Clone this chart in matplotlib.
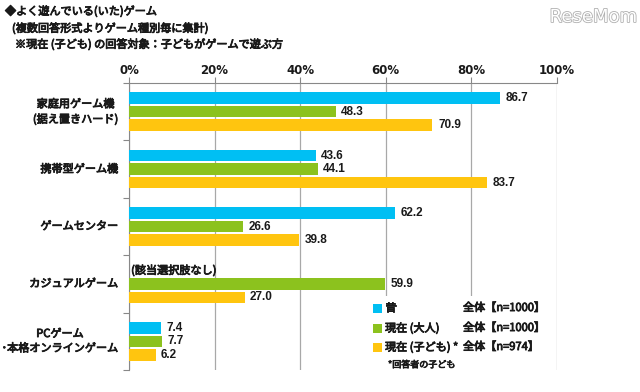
import matplotlib
matplotlib.use("Agg")
import matplotlib.pyplot as plt
import matplotlib.patheffects as pe
from matplotlib.patches import Rectangle

plt.rcParams['font.family'] = ['Noto Sans CJK JP', 'DejaVu Sans']

# data
categories = ['家庭用ゲーム機\n(据え置きハード)', '携帯型ゲーム機', 'ゲームセンター',
              'カジュアルゲーム', 'PCゲーム\n･本格オンラインゲーム']
past = [86.7, 43.6, 62.2, None, 7.4]     # 昔
adult = [48.3, 44.1, 26.6, 59.9, 7.7]    # 現在（大人）
child = [70.9, 83.7, 39.8, 27.0, 6.2]    # 現在（子ども）
xticks = [0, 20, 40, 60, 80, 100]

series_names = ['昔', '現在 (大人)', '現在 (子ども) *']
series_n = ['全体【n=1000】', '全体【n=1000】', '全体【n=974】']
colors = ['#00BFF3', '#8CC21E', '#FFC50F']

TXT = '#1A1A1A'
# the CJK font here has no heavy weight, so thicken glyphs with a stroke
heavy = [pe.withStroke(linewidth=0.6, foreground=TXT)]

fig = plt.figure(figsize=(6.4, 3.92), dpi=100)
ax = fig.add_axes([129 / 640, 1 - 370 / 392, 428 / 640, 287 / 392])

offsets = [-0.235, 0.0, 0.235]
bh = 0.2
for s, (vals, col) in enumerate(zip([past, adult, child], colors)):
    for i, v in enumerate(vals):
        y = i + 0.5 + offsets[s]
        if v is None:
            continue
        ax.barh(y, v, height=bh, color=col, zorder=3)
        ax.annotate(f'{v:.1f}', (v, y), xytext=(4, 0), textcoords='offset points',
                    va='center', ha='left', fontsize=8.5, fontweight='bold',
                    family='Liberation Sans', color=TXT)

# カジュアルゲームには「昔」の選択肢なし
ax.text(0.5, 3 + 0.5 + offsets[0], '(該当選択肢なし)', va='center', ha='left',
        fontsize=8, color=TXT, path_effects=heavy)

ax.set_xlim(0, 100)
ax.set_ylim(len(categories), 0)
ax.xaxis.tick_top()
ax.set_xticks(xticks)
ax.set_xticklabels([f'{t}%' for t in xticks], fontsize=8.5, fontweight='bold',
                   family='DejaVu Sans', color=TXT)
ax.tick_params(axis='x', direction='out', length=4, color='#888888', pad=0.5)
ax.set_yticks(range(len(categories) + 1))
ax.set_yticklabels([])
ax.tick_params(axis='y', direction='out', length=4, color='#888888')
for i, c in enumerate(categories):
    ax.text(-0.025, i + 0.5, c, transform=ax.get_yaxis_transform(), ha='right',
            va='center', multialignment='center', fontsize=8, color=TXT,
            linespacing=1.45, path_effects=heavy)

ax.grid(axis='x', color='#A8A8A8', linewidth=0.9, zorder=0)
for side in ['right', 'bottom']:
    ax.spines[side].set_visible(False)
ax.spines['left'].set_color('#888888')
ax.spines['top'].set_color('#888888')

# legend block (white box over the grid)
fig.patches.append(Rectangle((362 / 640, 1 - 380 / 392), 190 / 640, 84 / 392,
                             transform=fig.transFigure, facecolor='white',
                             edgecolor='none', zorder=2))
leg_y = [308, 328, 347]
for name, n, col, yy in zip(series_names, series_n, colors, leg_y):
    fy = 1 - yy / 392
    fig.patches.append(Rectangle((373 / 640, fy - 4.5 / 392), 9 / 640, 9 / 392,
                                 transform=fig.transFigure, facecolor=col,
                                 edgecolor='none', zorder=3))
    fig.text(385 / 640, fy, name, ha='left', va='center', fontsize=8,
             color=TXT, zorder=4, path_effects=heavy)
    fig.text(463 / 640, fy, n, ha='left', va='center', fontsize=8,
             color=TXT, zorder=4, path_effects=heavy)
fig.text(388 / 640, 1 - 365 / 392, '*回答者の子ども', ha='left', va='center',
         fontsize=6.5, color=TXT, zorder=4,
         path_effects=[pe.withStroke(linewidth=0.5, foreground=TXT)])

# title lines
fig.text(5 / 640, 1 - 11 / 392, '◆よく遊んでいる(いた)ゲーム', ha='left', va='center',
         fontsize=8, color=TXT, path_effects=heavy)
fig.text(12 / 640, 1 - 28 / 392, '(複数回答形式よりゲーム種別毎に集計)', ha='left',
         va='center', fontsize=8, color=TXT, path_effects=heavy)
fig.text(15 / 640, 1 - 44 / 392, '※現在 (子ども) の回答対象：子どもがゲームで遊ぶ方',
         ha='left', va='center', fontsize=8, color=TXT, path_effects=heavy)
fig.text(637 / 640, 1 - 17 / 392, 'ReseMom', ha='right', va='center', fontsize=13,
         color='white', family='DejaVu Sans',
         path_effects=[pe.withStroke(linewidth=1.2, foreground='#B0B0B0')])

fig.savefig('out.png', dpi=100)
